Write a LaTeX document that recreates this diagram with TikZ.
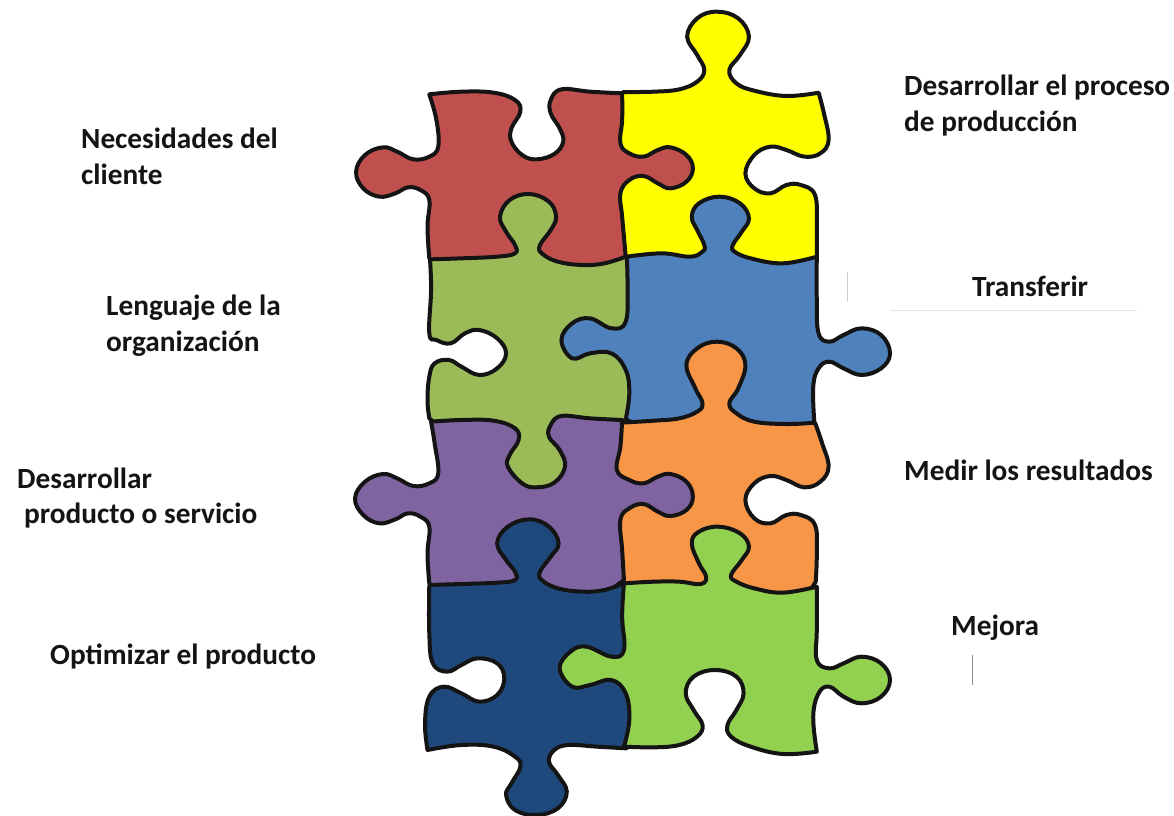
\documentclass[tikz,border=0pt]{standalone}
\usepackage{fontspec}
\setmainfont{Carlito}
\tikzset{
  every plot/.style={smooth,tension=0.68},
  piece/.style={draw=black!92,line width=4pt,line join=round},
  caption/.style={anchor=base west,inner sep=0pt,font=\fontsize{29.3}{32}\selectfont\bfseries,text=black!92},
  smudge/.style={line width=0.8pt}
}
\definecolor{pRed}{HTML}{C0504D}
\definecolor{pYellow}{HTML}{FFFF00}
\definecolor{pGreen}{HTML}{9BBB59}
\definecolor{pBlue}{HTML}{4F81BD}
\definecolor{pOrange}{HTML}{F79646}
\definecolor{pPurple}{HTML}{8064A2}
\definecolor{pNavy}{HTML}{1F497D}
\definecolor{pLime}{HTML}{92D050}
\begin{document}
\begin{tikzpicture}[x=1pt,y=-1pt]
\useasboundingbox (0,0) rectangle (1174,815);
\fill[white] (0,0) rectangle (1174,815);

% Puzzle pieces, back to front; edges lying under a later piece are left plain.
\begin{scope}[xshift=340pt,x=0.35714pt,y=-0.33333pt]
% yellow
\draw[piece,fill=pYellow] (750,300) -- plot coordinates {(795,276)(880,275)(950,268)(1000,245)(1020,210)(1000,165)(972,110)(1000,55)(1055,35)(1115,55)(1145,110)(1120,165)(1090,210)(1110,250)(1160,272)(1250,288)(1340,278)}
 -- plot coordinates {(1340,278)(1355,340)(1368,420)(1345,460)(1300,470)(1250,450)(1205,440)(1160,465)(1135,520)(1160,565)(1205,580)(1250,555)(1290,555)(1330,585)(1335,680)(1335,770)}
 -- (1300,830) -- (750,830) -- cycle;
% red
\draw[piece,fill=pRed] plot coordinates {(250,283)(340,275)(430,278)(490,300)(505,335)(480,385)(480,425)(510,465)(550,478)(600,462)(625,425)(615,385)(590,340)(590,300)(620,268)(700,275)(790,280)}
 -- plot coordinates {(790,280)(790,360)(785,430)(810,460)(850,470)(890,450)(925,442)(970,465)(988,505)(970,545)(925,565)(890,550)(850,528)(810,540)(785,580)(790,650)(800,770)}
 -- (740,840) -- (300,840) -- (250,775)
 -- plot coordinates {(250,775)(245,680)(250,600)(225,570)(190,562)(155,580)(110,590)(65,565)(45,515)(70,465)(120,442)(160,455)(205,478)(250,470)(275,440)(270,360)(250,283)} -- cycle;
% olive green
\draw[piece,fill=pGreen] plot coordinates {(252,778)(340,775)(440,770)(490,760)(490,735)(465,695)(448,650)(475,600)(530,582)(585,605)(605,650)(590,690)(560,735)(565,760)(610,785)(680,795)(740,790)(800,770)}
 -- (860,800) -- (860,1300) -- (700,1480) -- (400,1480) -- (300,1300) -- (250,1255)
 -- plot coordinates {(250,1255)(245,1200)(250,1130)(265,1090)(305,1080)(340,1100)(390,1125)(440,1105)(465,1060)(440,1015)(390,990)(350,1000)(310,1030)(270,1020)(250,1000)(255,870)(252,778)} -- cycle;
% blue
\draw[piece,fill=pBlue] plot coordinates {(803,770)(900,760)(980,770)(1015,755)(1020,735)(1000,690)(985,650)(1005,610)(1062,590)(1120,610)(1145,655)(1125,695)(1100,735)(1105,755)(1150,775)(1240,790)(1335,770)}
 -- plot coordinates {(1335,770)(1335,900)(1340,1000)(1370,1025)(1410,1005)(1460,985)(1515,1005)(1540,1060)(1515,1105)(1460,1125)(1410,1105)(1370,1085)(1340,1105)(1325,1160)(1328,1265)}
 -- (1250,1300) -- (880,1300) -- (800,1258)
 -- plot coordinates {(800,1258)(810,1180)(800,1110)(760,1060)(700,1060)(650,1075)(620,1020)(650,970)(700,955)(760,985)(800,965)(805,860)(803,770)} -- cycle;
% orange
\draw[piece,fill=pOrange] (720,1310) -- plot coordinates {(785,1268)(880,1262)(950,1255)(1000,1235)(1015,1210)(995,1165)(970,1095)(1000,1045)(1055,1025)(1110,1045)(1135,1095)(1115,1165)(1090,1210)(1110,1240)(1160,1265)(1250,1272)(1330,1268)}
 -- plot coordinates {(1330,1268)(1350,1330)(1368,1400)(1345,1445)(1300,1462)(1250,1440)(1205,1428)(1160,1450)(1135,1500)(1160,1555)(1205,1570)(1250,1545)(1290,1545)(1330,1575)(1335,1660)(1332,1745)}
 -- (1300,1800) -- (720,1800) -- cycle;
% purple
\draw[piece,fill=pPurple] plot coordinates {(255,1265)(340,1260)(430,1262)(490,1285)(500,1320)(475,1365)(470,1400)(510,1450)(550,1462)(600,1448)(630,1400)(615,1350)(585,1310)(590,1275)(620,1248)(700,1255)(790,1260)}
 -- plot coordinates {(790,1260)(785,1340)(775,1410)(810,1440)(850,1450)(890,1430)(925,1422)(970,1445)(988,1490)(970,1530)(925,1548)(890,1535)(850,1512)(810,1525)(785,1560)(790,1650)(795,1740)}
 -- (720,1800) -- (300,1800) -- (250,1750)
 -- plot coordinates {(250,1750)(245,1660)(250,1580)(225,1550)(190,1540)(155,1558)(110,1570)(65,1545)(42,1495)(70,1445)(120,1422)(160,1435)(205,1458)(250,1450)(275,1420)(265,1330)(255,1265)} -- cycle;
% navy
\draw[piece,fill=pNavy] plot coordinates {(250,1755)(340,1752)(440,1748)(490,1740)(490,1715)(465,1680)(440,1630)(470,1580)(530,1558)(585,1580)(612,1630)(590,1670)(560,1715)(565,1740)(610,1765)(680,1775)(740,1770)(795,1750)}
 -- (860,1800) -- (850,2220) -- (800,2245)
 -- plot coordinates {(800,2245)(720,2240)(640,2235)(600,2250)(585,2285)(610,2325)(635,2375)(610,2425)(550,2445)(490,2430)(465,2385)(480,2350)(505,2300)(490,2270)(430,2240)(340,2235)(245,2250)}
 -- plot coordinates {(245,2250)(238,2170)(250,2090)(290,2060)(340,2080)(390,2105)(440,2085)(460,2035)(440,1990)(385,1975)(340,1995)(300,2015)(260,1990)(250,1900)(250,1755)} -- cycle;
% lime
\draw[piece,fill=pLime] plot coordinates {(795,1750)(880,1745)(950,1745)(1010,1752)(1025,1730)(1005,1690)(985,1630)(1005,1595)(1060,1580)(1120,1600)(1145,1640)(1125,1680)(1095,1725)(1110,1745)(1160,1765)(1240,1778)(1335,1760)}
 -- plot coordinates {(1335,1760)(1335,1890)(1335,1980)(1370,2005)(1410,1990)(1460,1970)(1515,1990)(1540,2040)(1515,2090)(1460,2110)(1410,2090)(1370,2060)(1340,2080)(1325,2150)(1335,2255)}
 -- plot coordinates {(1335,2255)(1240,2262)(1150,2240)(1095,2210)(1085,2175)(1110,2130)(1130,2080)(1110,2030)(1050,2010)(990,2030)(968,2080)(990,2130)(1015,2175)(1000,2210)(950,2235)(880,2242)(795,2240)}
 -- plot coordinates {(795,2240)(810,2160)(800,2080)(760,2040)(700,2055)(650,2060)(615,2005)(645,1955)(690,1940)(760,1970)(795,1950)(790,1850)(795,1750)} -- cycle;
\end{scope}

% Stray pen marks beside two of the captions
\draw[smudge,black!20] (847,272) -- (847,302);
\draw[smudge,black!10] (890,310) -- (1137,310);
\draw[smudge,black!45] (972,655) -- (972,685);

% Captions
\node[caption] (n1a) at (81,148) {Necesidades del};
\node[caption] (n1b) at (81,184) {cliente};
\node[caption] (n2a) at (106,315) {Lenguaje de la};
\node[caption] (n2b) at (106,351) {organización};
\node[caption] (n3a) at (17,488) {Desarrollar};
\node[caption] (n3b) at (24,523) {producto o servicio};
\node[caption] (n4) at (50,664) {Optimizar el producto};
\node[caption] (n5a) at (904,95) {Desarrollar el proceso};
\node[caption] (n5b) at (904,131) {de producción};
\node[caption] (n6) at (972,296) {Transferir};
\node[caption] (n7) at (904,480) {Medir los resultados};
\node[caption] (n8) at (951,635) {Mejora};
\end{tikzpicture}
\end{document}
